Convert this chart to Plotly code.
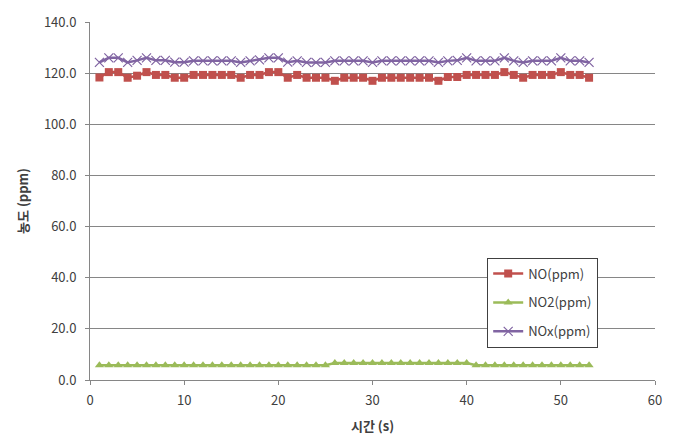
import plotly.graph_objects as go

time_s = list(range(1, 54))
no_ppm = [118.3, 120.4, 120.4, 118.2, 119.0, 120.4, 119.3, 119.3, 118.2, 118.2,
          119.3, 119.3, 119.3, 119.3, 119.3, 118.2, 119.3, 119.3, 120.4, 120.4,
          118.2, 119.3, 118.2, 118.2, 118.2, 117.0, 118.2, 118.2, 118.2, 117.0,
          118.2, 118.2, 118.2, 118.2, 118.2, 118.2, 117.0, 118.5, 118.5, 119.3,
          119.3, 119.3, 119.3, 120.4, 119.3, 118.2, 119.3, 119.3, 119.3, 120.4,
          119.3, 119.3, 118.2]
no2_ppm = [5.8] * 25 + [6.6] * 15 + [5.8] * 13
nox_ppm = [124.2, 126.0, 126.0, 124.2, 125.0, 126.0, 125.0, 125.0, 124.3, 124.3,
           124.8, 124.8, 124.8, 124.8, 124.8, 124.2, 124.8, 125.2, 126.0, 126.0,
           124.3, 124.8, 124.2, 124.2, 124.2, 124.8, 124.8, 124.8, 124.8, 124.2,
           124.8, 124.8, 124.8, 124.8, 124.8, 124.8, 124.2, 124.8, 125.0, 126.0,
           124.8, 124.8, 124.8, 126.0, 124.8, 124.2, 124.8, 124.8, 124.8, 126.0,
           124.8, 124.8, 124.2]

x_ticks = [0, 10, 20, 30, 40, 50, 60]
y_ticks = [0, 20, 40, 60, 80, 100, 120, 140]

font = "Malgun Gothic, Noto Sans CJK KR, sans-serif"

fig = go.Figure()
fig.add_trace(go.Scatter(
    x=time_s, y=no_ppm, name="NO(ppm)", mode="lines+markers", legendgroup="a",
    line=dict(color="#C0504D", width=2.5),
    marker=dict(symbol="square", size=8, color="#C0504D"),
))
fig.add_trace(go.Scatter(
    x=time_s, y=no2_ppm, name="NO2(ppm)", mode="lines+markers", legendgroup="b",
    line=dict(color="#9BBB59", width=2.5),
    marker=dict(symbol="triangle-up", size=8, color="#9BBB59"),
))
fig.add_trace(go.Scatter(
    x=time_s, y=nox_ppm, name="NOx(ppm)", mode="lines+markers", legendgroup="c",
    line=dict(color="#8064A2", width=2.5),
    marker=dict(symbol="x-thin-open", size=9, line=dict(color="#A9A0D8", width=1.2)),
))

fig.update_layout(
    width=680, height=447,
    margin=dict(l=90, r=25, t=19, b=67),
    paper_bgcolor="white", plot_bgcolor="white",
    font=dict(family=font, size=13, color="#404040"),
    showlegend=True,
    legend=dict(
        x=0.703, y=0.342, xanchor="left", yanchor="top",
        bordercolor="#404040", borderwidth=1, bgcolor="white",
        font=dict(size=13, color="#404040"),
        tracegroupgap=9, itemwidth=30,
    ),
    xaxis=dict(
        range=[0, 60], tickvals=x_ticks, showgrid=False,
        showline=True, linecolor="#868686", linewidth=1,
        ticks="outside", ticklen=4, tickcolor="#868686",
        ticklabelstandoff=4,
        title=dict(text="<b>시간 (s)</b>", font=dict(size=13, color="#404040"), standoff=14),
        zeroline=False,
    ),
    yaxis=dict(
        range=[0, 140], tickvals=y_ticks, tickformat=".1f",
        showgrid=True, gridcolor="#868686", gridwidth=1,
        showline=True, linecolor="#868686", linewidth=1,
        ticks="outside", ticklen=4, tickcolor="#868686",
        ticklabelstandoff=6,
        title=dict(text="<b>농도 (ppm)</b>", font=dict(size=13, color="#404040"), standoff=12),
        zeroline=False,
    ),
)

fig.write_html("out.html")
